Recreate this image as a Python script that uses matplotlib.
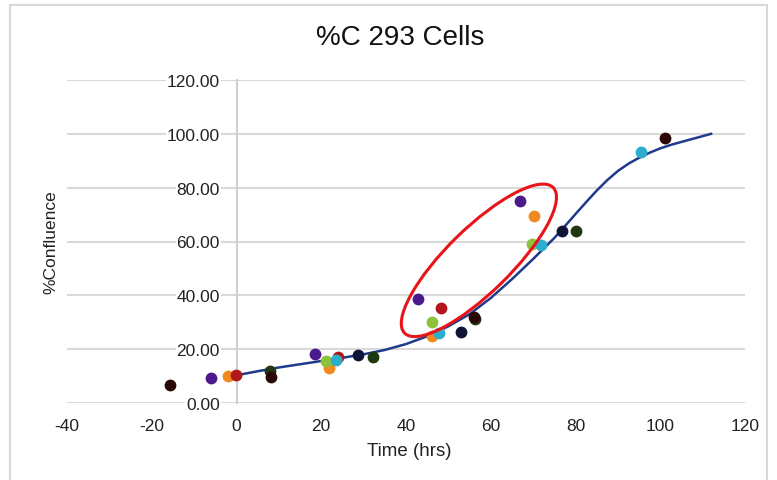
import matplotlib
matplotlib.use("Agg")
import matplotlib.pyplot as plt
from matplotlib.patches import Ellipse, Rectangle
from matplotlib.transforms import IdentityTransform

plt.rcParams['font.family'] = ['Liberation Sans', 'DejaVu Sans']

# Points mesurés, une liste par couleur (x = heures, y = % confluence)
purple_x = [-5.9, 18.6, 42.8, 66.8]
purple_y = [9.3, 18.2, 38.7, 75.1]
orange_x = [-2.1, 21.9, 46.1, 70.1]
orange_y = [10.0, 13.0, 25.0, 69.5]
red_x = [-0.2, 24.0, 48.2]
red_y = [10.4, 17.1, 35.3]
lgreen_x = [21.2, 46.1, 69.7]
lgreen_y = [15.6, 30.1, 59.1]
cyan_x = [23.5, 47.8, 71.8, 95.5]
cyan_y = [16.0, 26.0, 58.7, 93.3]
navy_x = [28.7, 52.9, 76.9]
navy_y = [17.8, 26.4, 64.0]
dgreen_x = [8.0, 32.2, 56.4, 80.2]
dgreen_y = [11.9, 17.1, 31.2, 64.0]
black_x = [-15.8, 8.2, 56.0, 101.2]
black_y = [6.7, 9.7, 31.8, 98.5]

# Courbe de tendance
fit_x = [0, 5, 10, 15, 20, 25, 30, 35, 40, 45, 50, 55, 60, 65, 70, 75, 77.5, 80, 82.5,
         85, 87.5, 90, 92.5, 95, 97.5, 100, 102.5, 105, 108.5, 112]
fit_y = [10.3, 11.8, 13.2, 14.4, 15.6, 16.8, 18.1, 19.7, 21.9, 24.8, 28.5, 33.0, 39.0, 46.0,
         53.5, 61.3, 65.7, 70.2, 74.6, 78.9, 82.8, 86.2, 88.9, 91.1, 93.0, 94.6, 95.9, 97.0,
         98.5, 100.0]

x_ticks = [-40, -20, 0, 20, 40, 60, 80, 100, 120]
y_ticks = [0, 20, 40, 60, 80, 100, 120]

fig = plt.figure(figsize=(7.77, 4.81), dpi=100)
ax = fig.add_axes([67 / 777, 77 / 481, 678 / 777, 323 / 481])

ax.set_xlim(-40, 120)
ax.set_ylim(0, 120)

# grille horizontale
for yv in y_ticks:
    ax.axhline(yv, color='#d9d9d9', lw=2.2 if yv == 0 else 1.5, zorder=0)

ax.plot(fit_x, fit_y, color='#1f3a8a', lw=1.8, zorder=2)

series = [
    (purple_x, purple_y, '#4a1a8c'),
    (orange_x, orange_y, '#f08a1e'),
    (red_x, red_y, '#b0161a'),
    (lgreen_x, lgreen_y, '#8cc23a'),
    (cyan_x, cyan_y, '#2aaecb'),
    (navy_x, navy_y, '#0f1535'),
    (dgreen_x, dgreen_y, '#1f3812'),
    (black_x, black_y, '#2a0808'),
]
for xs, ys, c in series:
    ax.plot(xs, ys, 'o', color=c, markersize=8.5, markeredgewidth=0, zorder=3)

for s in ['top', 'right', 'bottom']:
    ax.spines[s].set_visible(False)
ax.spines['left'].set_position(('data', 0))
ax.spines['left'].set_color('#d0d0d0')
ax.spines['left'].set_linewidth(1.5)

ax.set_xticks(x_ticks)
ax.set_xticklabels([str(v) for v in x_ticks])
ax.set_yticks(y_ticks)
ax.set_yticklabels(['%.2f' % v for v in y_ticks])
ax.tick_params(axis='x', length=0, pad=11, labelsize=12.5, labelcolor='#222222')
ax.tick_params(axis='y', length=0, pad=12, labelsize=12.5, labelcolor='#222222')
for lbl in ax.get_yticklabels():
    lbl.set_bbox(dict(facecolor='white', edgecolor='none', pad=0.5))

# ellipse rouge autour du groupe de points
fig.canvas.draw()
cx, cy = ax.transData.transform((57.2, 53.0))
ell = Ellipse((cx, cy), width=208, height=64, angle=44.4, fill=False,
              edgecolor='#e8141a', lw=2.2, transform=IdentityTransform(), zorder=5)
ax.add_artist(ell)

fig.text(400 / 777, 1 - 38 / 481, '%C 293 Cells', ha='center', va='center', fontsize=20, color='#111111')
fig.text(409 / 777, 1 - 452 / 481, 'Time (hrs)', ha='center', va='center', fontsize=13.5, color='#222222')
fig.text(51 / 777, 1 - 242 / 481, '%Confluence', ha='center', va='center', rotation=90,
         fontsize=12.5, color='#222222')

# cadre gris clair du graphique
fig.patches.append(Rectangle((10 / 777, -0.05), 757 / 777, 1.05 - 6 / 481, fill=False,
                             edgecolor='#d8d8d8', lw=1.5, transform=fig.transFigure, figure=fig))

fig.savefig('out.png', dpi=100)
